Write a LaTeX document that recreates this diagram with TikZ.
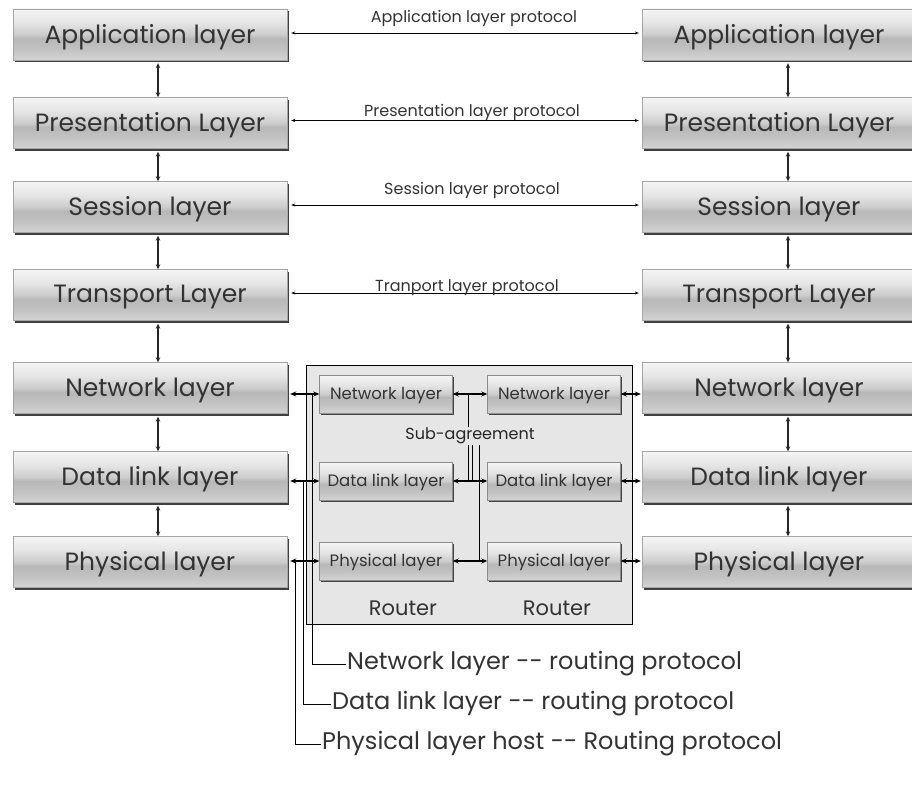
\documentclass[tikz,border=0pt]{standalone}
\usepackage{fontspec}
\setmainfont{Poppins}
\usetikzlibrary{arrows.meta,shadows}
\definecolor{txt}{HTML}{333333}
\definecolor{routerbg}{HTML}{E6E6E6}
\pgfdeclareverticalshading{layershade}{100bp}{color(0bp)=(black!17); color(25bp)=(black!17); color(36bp)=(black!24); color(46bp)=(black!28); color(50bp)=(black!20); color(62bp)=(black!10); color(75bp)=(black!4); color(100bp)=(black!4)}
\tikzset{
  layerbox/.style={draw=black!35, shading=layershade, minimum width=274pt, minimum height=51pt, inner sep=0pt,
    font=\fontsize{25}{28}\selectfont, text=txt, text depth=2pt,
    drop shadow={opacity=0.75, fill=black, shadow xshift=2pt, shadow yshift=-2.5pt}},
  smallbox/.style={draw=black!45, shading=layershade, minimum width=133pt, minimum height=38pt, inner sep=0pt,
    font=\fontsize{16.5}{18}\selectfont, text=txt, text depth=1pt,
    drop shadow={opacity=0.7, fill=black, shadow xshift=1.5pt, shadow yshift=-2pt}},
  vlink/.style={{Stealth[length=5pt,width=4.5pt]}-{Stealth[length=5pt,width=4.5pt]}, line width=1.1pt, draw=black!85},
  plink/.style={{Stealth[length=4pt,width=3pt]}-{Stealth[length=4pt,width=3pt]}, line width=0.6pt},
  hlink/.style={{Stealth[length=6pt,width=5pt]}-{Stealth[length=6pt,width=5pt]}, line width=1.6pt},
  plabel/.style={font=\fontsize{16}{18}\selectfont, text=txt, inner sep=1pt},
  blabel/.style={font=\fontsize{24}{26}\selectfont, text=txt, inner sep=1pt, anchor=west},
  rlabel/.style={font=\fontsize{21}{24}\selectfont, text=txt},
  thinline/.style={line width=0.8pt}
}
\begin{document}
\begin{tikzpicture}[x=1pt,y=-1pt]
\path[use as bounding box] (0,0) rectangle (912,791);
\clip (0,0) rectangle (912,791);
% left stack
\node[layerbox] (L1) at (150,34.5) {Application layer};
\node[layerbox] (L2) at (150,123) {Presentation Layer};
\node[layerbox] (L3) at (150,207) {Session layer};
\node[layerbox] (L4) at (150,295) {Transport Layer};
\node[layerbox] (L5) at (150,388) {Network layer};
\node[layerbox] (L6) at (150,477) {Data link layer};
\node[layerbox] (L7) at (150,562) {Physical layer};
% right stack
\node[layerbox] (R1) at (779,34.5) {Application layer};
\node[layerbox] (R2) at (779,123) {Presentation Layer};
\node[layerbox] (R3) at (779,207) {Session layer};
\node[layerbox] (R4) at (779,295) {Transport Layer};
\node[layerbox] (R5) at (779,388) {Network layer};
\node[layerbox] (R6) at (779,477) {Data link layer};
\node[layerbox] (R7) at (779,562) {Physical layer};
% vertical links
\foreach \a/\b in {1/2,2/3,3/4,4/5,5/6,6/7}{
  \draw[vlink] ([xshift=8pt,yshift=-3pt]L\a.south) -- ([xshift=8pt]L\b.north);
  \draw[vlink] ([xshift=9pt,yshift=-3pt]R\a.south) -- ([xshift=9pt]R\b.north);
}
% peer protocols
\draw[plink, line width=0.9pt] ([xshift=4pt,yshift=1.5pt]L1.east) -- ([xshift=-3pt,yshift=1.5pt]R1.west);
\draw[plink] ([xshift=4pt,yshift=2.5pt]L2.east) -- ([xshift=-3pt,yshift=2.5pt]R2.west);
\draw[plink] ([xshift=4pt,yshift=2pt]L3.east) -- ([xshift=-3pt,yshift=2pt]R3.west);
\draw[plink] ([xshift=4pt,yshift=2pt]L4.east) -- ([xshift=-3pt,yshift=2pt]R4.west);
\node[plabel] (p1) at (474,18) {Application layer protocol};
\node[plabel] (p2) at (472,112) {Presentation layer protocol};
\node[plabel] (p3) at (472,190) {Session layer protocol};
\node[plabel] (p4) at (467,288) {Tranport layer protocol};
% router area
\node[draw=black, line width=1pt, fill=routerbg, minimum width=326pt, minimum height=259pt, inner sep=0pt] (RT) at (469,494.5) {};
\node[smallbox] (A1) at (386,394) {Network layer};
\node[smallbox] (A2) at (386,481) {Data link layer};
\node[smallbox] (A3) at (386,561) {Physical layer};
\node[smallbox] (B1) at (554,394) {Network layer};
\node[smallbox] (B2) at (554,481) {Data link layer};
\node[smallbox] (B3) at (554,561) {Physical layer};
\node[rlabel] (T1) at (403,608) {Router};
\node[rlabel] (T2) at (557,608) {Router};
% sub-agreement lines
\coordinate (s1) at (468,394);
\coordinate (s1b) at (468,481);
\coordinate (s2) at (472,445);
\coordinate (s2b) at (472,481);
\coordinate (s3) at (479,445);
\coordinate (s3b) at (479,561);
\draw[thinline] (s1) -- (s1b);
\draw[thinline] (s2) -- (s2b);
\draw[thinline] (s3) -- (s3b);
\node[font=\fontsize{16}{18}\selectfont, text=black!85, fill=routerbg, inner sep=1pt] (SA) at (470,436) {Sub-agreement};
\draw[hlink] (A1.east) -- (B1.west);
\draw[hlink] (A2.east) -- (B2.west);
\draw[hlink] (A3.east) -- (B3.west);
% host-router links
\draw[hlink, line width=1.3pt] ([xshift=3pt]L5.east |- A1.west) -- (A1.west);
\draw[hlink, line width=1.3pt] ([xshift=3pt]L6.east |- A2.west) -- (A2.west);
\draw[hlink, line width=1.3pt] ([xshift=3pt]L7.east |- A3.west) -- (A3.west);
\draw[hlink, line width=1.3pt] (B1.east) -- ([xshift=-1pt]R5.west |- B1.east);
\draw[hlink, line width=1.3pt] (B2.east) -- ([xshift=-1pt]R6.west |- B2.east);
\draw[hlink, line width=1.3pt] (B3.east) -- ([xshift=-1pt]R7.west |- B3.east);
% routing protocol callouts
\node[blabel] (N1) at (346,664) {Network layer {-}{-} routing protocol};
\node[blabel] (N2) at (331,704) {Data link layer {-}{-} routing protocol};
\node[blabel] (N3) at (321,744) {Physical layer host {-}{-} Routing protocol};
\coordinate (c1) at (312,394);
\coordinate (c2) at (303,481);
\coordinate (c3) at (295,561);
\draw[thinline] (c1) |- (N1.west);
\draw[thinline] (c2) |- (N2.west);
\draw[thinline] (c3) |- (N3.west);
\end{tikzpicture}
\end{document}
